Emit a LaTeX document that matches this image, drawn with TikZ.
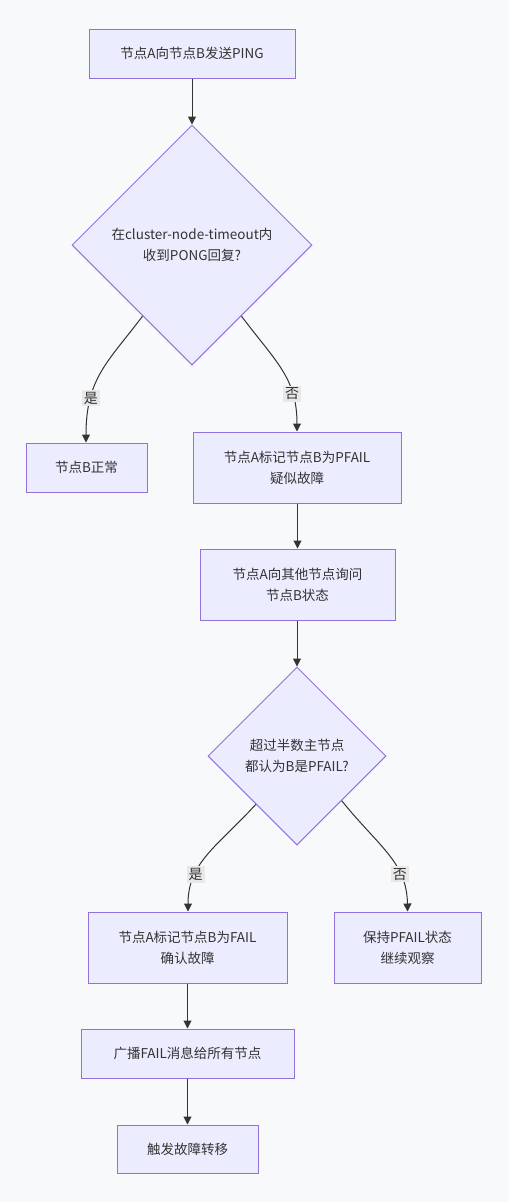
\documentclass[tikz,border=0pt]{standalone}
\usepackage{fontspec}
\setmainfont{Noto Sans CJK SC}
\usetikzlibrary{shapes.geometric,arrows.meta,calc}
\definecolor{bgc}{HTML}{F8F9FA}
\definecolor{nodefill}{HTML}{ECECFF}
\definecolor{nodeline}{HTML}{9370DB}
\definecolor{edgec}{HTML}{333333}
\definecolor{lblbg}{HTML}{E8E8E8}
\tikzset{
  x=1pt, y=-1pt,
  every node/.style={font=\fontsize{13.5}{21}\selectfont, text=edgec},
  procbox/.style={rectangle, draw=nodeline, fill=nodefill, line width=1pt, align=center, inner sep=0pt},
  decision/.style={diamond, draw=nodeline, fill=nodefill, line width=1pt, inner sep=0pt, minimum width=#1, minimum height=#1, aspect=1},
  lbl/.style={align=center},
  edgelbl/.style={fill=lblbg, inner sep=2pt, font=\fontsize{14}{16}\selectfont},
  flow/.style={draw=edgec, line width=1pt, -{Triangle[length=8pt,width=8pt]}},
}
\begin{document}
\begin{tikzpicture}
\fill[bgc] (0,0) rectangle (509,1202);
\useasboundingbox (0,0) rectangle (509,1202);

\node[procbox, minimum width=206pt, minimum height=49pt] (n1) at (192,53.5) {节点A向节点B发送PING};
\node[decision=240pt] (d1) at (192,245) {};
\node[lbl] (d1t) at (192,245) {在cluster-node-timeout内\\收到PONG回复?};
\node[procbox, minimum width=121pt, minimum height=49pt] (n3) at (86.5,467.5) {节点B正常};
\node[procbox, minimum width=208pt, minimum height=71pt] (n4) at (297,467.5) {节点A标记节点B为PFAIL\\疑似故障};
\node[procbox, minimum width=195pt, minimum height=71pt] (n5) at (297.5,584.5) {节点A向其他节点询问\\节点B状态};
\node[decision=178pt] (d2) at (297,756) {};
\node[lbl] (d2t) at (297,756) {超过半数主节点\\都认为B是PFAIL?};
\node[procbox, minimum width=199pt, minimum height=71pt] (n7) at (187.5,947.5) {节点A标记节点B为FAIL\\确认故障};
\node[procbox, minimum width=147pt, minimum height=71pt] (n8) at (407.5,947.5) {保持PFAIL状态\\继续观察};
\node[procbox, minimum width=213pt, minimum height=49pt] (n9) at (187.5,1053.5) {广播FAIL消息给所有节点};
\node[procbox, minimum width=141pt, minimum height=48pt] (n10) at (187.5,1149) {触发故障转移};

\coordinate (d1l) at ($(d1.west)!0.59!(d1.south)$);
\coordinate (d1r) at ($(d1.east)!0.59!(d1.south)$);
\coordinate (d2l) at ($(d2.west)!0.54!(d2.south)$);
\coordinate (d2r) at ($(d2.east)!0.5!(d2.south)$);

\draw[flow] (n1.south) -- (d1.north);
\draw[flow] (d1l) .. controls (108,362) and (86,378) .. (n3.north -| 86,0)
  node[edgelbl, pos=0.72] {是};
\draw[flow] (d1r) .. controls (276,362) and (297,378) .. (n4.north)
  node[edgelbl, pos=0.72] {否};
\draw[flow] (n4.south -| n5.north) -- (n5.north);
\draw[flow] (n5.south -| d2.north) -- (d2.north);
\draw[flow] (d2l) .. controls (218,846) and (188,862) .. (n7.north -| 188,0)
  node[edgelbl, pos=0.7] {是};
\draw[flow] (d2r) .. controls (378,846) and (407,862) .. (n8.north)
  node[edgelbl, pos=0.7] {否};
\draw[flow] (n7.south) -- (n9.north -| n7.south);
\draw[flow] (n9.south -| n10.north) -- (n10.north);
\end{tikzpicture}
\end{document}
